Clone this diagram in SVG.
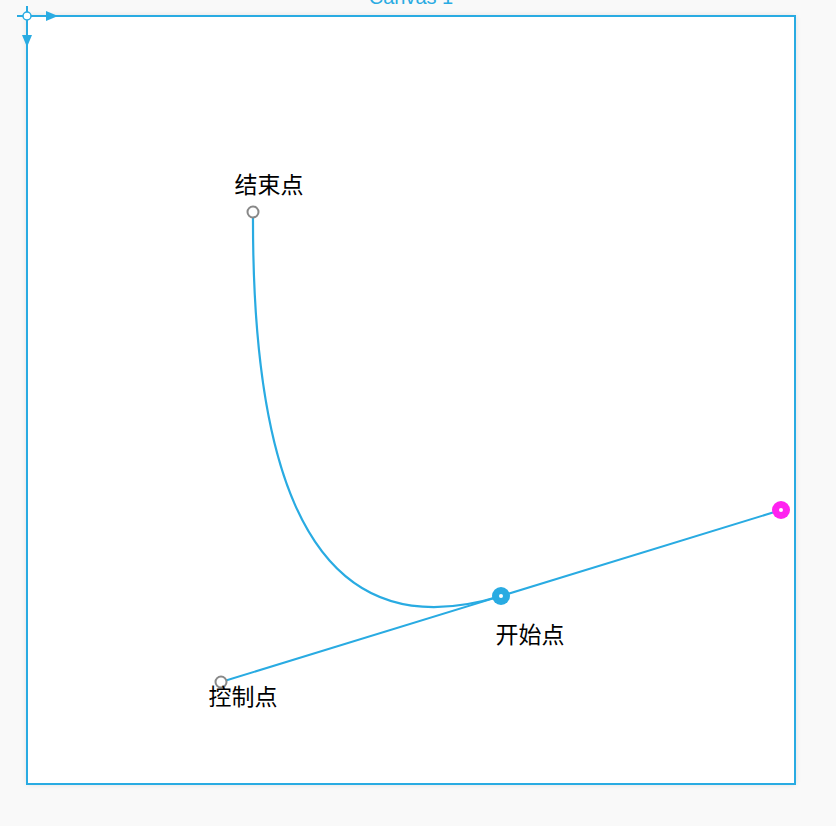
<svg xmlns="http://www.w3.org/2000/svg" width="836" height="826" viewBox="0 0 836 826">
<defs>
<filter id="sh" x="-5%" y="-5%" width="110%" height="110%">
<feGaussianBlur stdDeviation="3"/>
</filter>
<style>
.lbl{font-family:"Noto Sans CJK SC","Noto Sans",sans-serif;font-size:23px;fill:#000;text-anchor:middle}
.blue{stroke:#29abe2;fill:none}
.hollow{fill:#fff;stroke:#888;stroke-width:2}
</style>
</defs>
<rect width="836" height="826" fill="#f9f9f9"/>
<g id="canvas">
<rect x="27" y="16" width="768" height="768" fill="#000" opacity="0.12" filter="url(#sh)"/>
<rect x="27" y="16" width="768" height="768" fill="#fff" stroke="#29abe2" stroke-width="2"/>
<text x="411" y="4" font-family="Liberation Sans, Arial, sans-serif" font-size="20" fill="#29abe2" text-anchor="middle">Canvas 1</text>
</g>
<g id="axes">
<line x1="17" y1="16" x2="50" y2="16" stroke="#29abe2" stroke-width="2"/>
<line x1="27" y1="6" x2="27" y2="40" stroke="#29abe2" stroke-width="2"/>
<polygon points="46,11 58,16 46,21" fill="#29abe2"/>
<polygon points="22,35 27,47 32,35" fill="#29abe2"/>
<circle cx="27" cy="16" r="4" fill="#fff" stroke="#29abe2" stroke-width="1.5"/>
</g>
<g id="connectors">
<line class="blue" x1="221" y1="682" x2="781" y2="510" stroke-width="2"/>
<path class="blue" d="M501,596 C283.4,662.9 252,414 253,212" stroke="#2aa2dc" stroke-width="2.2"/>
</g>
<g id="end-point">
<circle class="hollow" cx="253" cy="212" r="5.5"/>
<text class="lbl" x="269" y="193">结束点</text>
</g>
<g id="start-point">
<circle cx="501" cy="596" r="9" fill="#29abe2"/>
<circle cx="501" cy="596" r="2" fill="#fff"/>
<text class="lbl" x="530" y="643">开始点</text>
</g>
<g id="control-point">
<circle class="hollow" cx="221" cy="682" r="5.5"/>
<text class="lbl" x="243" y="705">控制点</text>
</g>
<g id="mirror-point">
<circle cx="781" cy="510" r="9" fill="#ff22f0"/>
<circle cx="781" cy="510" r="2" fill="#fff"/>
</g>
</svg>
